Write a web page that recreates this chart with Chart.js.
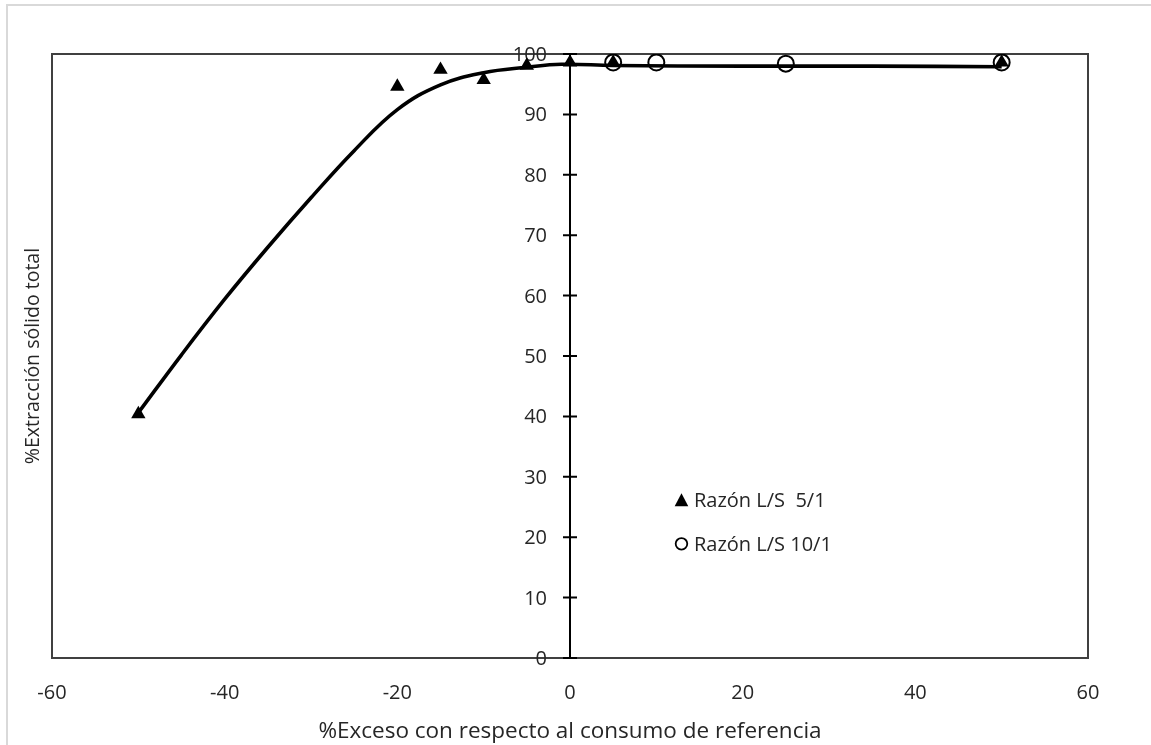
<!DOCTYPE html>
<html><head><meta charset="utf-8">
<script src="https://cdn.jsdelivr.net/npm/chart.js@4/dist/chart.umd.min.js"></script>
<style>
html,body{margin:0;padding:0;background:#fff;overflow:hidden;width:1151px;height:745px}
#frame{position:absolute;left:6px;top:4px;width:1250px;height:800px;border:2px solid #d9d9d9;box-sizing:border-box}
#wrap{position:absolute;left:0;top:0;width:1151px;height:745px}
</style></head><body>
<div id="frame"></div>
<div id="wrap"><canvas id="c" width="1151" height="745"></canvas></div>
<script>
const xTicks = [-60, -40, -20, 0, 20, 40, 60];
const yTicks = [0, 10, 20, 30, 40, 50, 60, 70, 80, 90, 100];
const series51Label = 'Razón L/S  5/1';
const series101Label = 'Razón L/S 10/1';
const x51 = [-50, -20, -15, -10, -5, 0, 5, 50];
const y51 = [40.4, 94.6, 97.4, 95.7, 98.1, 98.6, 98.6, 98.6];
const x101 = [5, 10, 25, 50];
const y101 = [98.6, 98.6, 98.4, 98.6];
const fitX = [-50, -45, -40, -35, -30, -25, -20, -15, -10, -5, -1, 5, 20, 35, 50];
const fitY = [40.6, 50.2, 59.4, 68.0, 76.2, 84.0, 90.8, 94.9, 96.9, 97.8, 98.3, 98.1, 98.0, 98.0, 97.9];
const xTitle = '%Exceso con respecto al consumo de referencia';
const yTitle = '%Extracción sólido total';

const FONT = '"Open Sans"';
const TXT = '#262626';

const toPts = (xs, ys) => xs.map((x, i) => ({x: x, y: ys[i]}));

const frameAndTicks = {
  id: 'frameAndTicks',
  beforeDatasetsDraw(chart) {
    const {ctx, chartArea: a, scales} = chart;
    ctx.save();
    ctx.strokeStyle = '#404040';
    ctx.lineWidth = 2;
    ctx.strokeRect(a.left, a.top, a.right - a.left, a.bottom - a.top);
    const x0 = scales.x.getPixelForValue(0);
    ctx.strokeStyle = '#000';
    ctx.lineWidth = 2;
    ctx.beginPath();
    ctx.moveTo(x0, a.bottom);
    ctx.lineTo(x0, a.top);
    scales.y.ticks.forEach(t => {
      const py = scales.y.getPixelForValue(t.value);
      ctx.moveTo(x0 - 7, py);
      ctx.lineTo(x0 + 7, py);
    });
    ctx.stroke();
    // y tick labels, left of the centred axis
    ctx.font = '20px ' + FONT;
    ctx.fillStyle = TXT;
    ctx.textAlign = 'right';
    ctx.textBaseline = 'alphabetic';
    scales.y.ticks.forEach(t => {
      const py = scales.y.getPixelForValue(t.value);
      ctx.fillText(String(t.value), x0 - 23, py + 7);
    });
    ctx.restore();
  },
  afterDraw(chart) {
    const {ctx, chartArea: a} = chart;
    const w = a.right - a.left, h = a.bottom - a.top;
    const mx = a.left + 0.6076 * w;
    const y1 = a.top + 0.738 * h;
    const y2 = a.top + 0.811 * h;
    ctx.save();
    ctx.fillStyle = '#000';
    ctx.beginPath();
    ctx.moveTo(mx, y1 - 6.5);
    ctx.lineTo(mx + 6.8, y1 + 6.5);
    ctx.lineTo(mx - 6.8, y1 + 6.5);
    ctx.closePath();
    ctx.fill();
    ctx.strokeStyle = '#000';
    ctx.lineWidth = 1.8;
    ctx.beginPath();
    ctx.arc(mx, y2, 5.8, 0, Math.PI * 2);
    ctx.stroke();
    ctx.font = '20px ' + FONT;
    ctx.fillStyle = TXT;
    ctx.textBaseline = 'alphabetic';
    ctx.textAlign = 'left';
    ctx.fillText(series51Label, mx + 12.5, y1 + 7);
    ctx.fillText(series101Label, mx + 12.5, y2 + 7);
    // y axis title
    ctx.font = '19.5px ' + FONT;
    ctx.translate(33, (a.top + a.bottom) / 2);
    ctx.rotate(-Math.PI / 2);
    ctx.textAlign = 'center';
    ctx.textBaseline = 'middle';
    ctx.fillText(yTitle, 0, 0);
    ctx.restore();
  }
};

new Chart(document.getElementById('c'), {
  type: 'scatter',
  data: {
    datasets: [
      {
        label: 'ajuste',
        data: toPts(fitX, fitY),
        showLine: true,
        tension: 0.4,
        borderColor: '#000',
        borderWidth: 3.6,
        pointRadius: 0,
        fill: false,
        order: 3
      },
      {
        label: series101Label,
        data: toPts(x101, y101),
        pointStyle: 'circle',
        pointRadius: 8,
        borderWidth: 2,
        borderColor: '#000',
        backgroundColor: 'rgba(0,0,0,0)',
        order: 2
      },
      {
        label: series51Label,
        data: toPts(x51, y51),
        pointStyle: 'triangle',
        pointRadius: 8.3,
        borderWidth: 0,
        borderColor: '#000',
        backgroundColor: '#000',
        order: 1
      }
    ]
  },
  options: {
    responsive: false,
    animation: false,
    events: [],
    layout: {padding: {left: 52, right: 63, top: 54, bottom: 0}},
    plugins: {legend: {display: false}, tooltip: {enabled: false}},
    scales: {
      x: {
        type: 'linear',
        min: -60, max: 60,
        afterBuildTicks: s => { s.ticks = xTicks.map(v => ({value: v})); },
        afterFit: s => { s.height = 87; },
        grid: {display: false, drawTicks: false},
        border: {display: false},
        ticks: {color: TXT, font: {family: 'Open Sans', size: 20}, padding: 23, maxRotation: 0},
        title: {display: true, text: xTitle, color: TXT, font: {family: 'Open Sans', size: 22.5}, padding: {top: 4, bottom: 0}}
      },
      y: {
        type: 'linear',
        min: 0, max: 100,
        position: {x: 0},
        afterBuildTicks: s => { s.ticks = yTicks.map(v => ({value: v})); },
        grid: {display: false, drawTicks: false},
        border: {display: false},
        ticks: {display: false}
      }
    }
  },
  plugins: [frameAndTicks]
});
</script>
</body></html>
